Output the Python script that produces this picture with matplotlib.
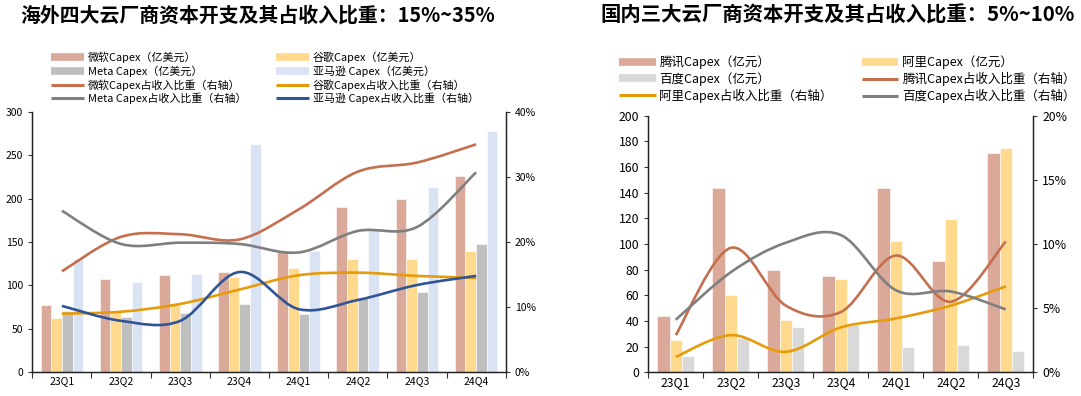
import matplotlib
matplotlib.use("Agg")
import matplotlib.pyplot as plt
from matplotlib.path import Path
from matplotlib.patches import PathPatch
from matplotlib.lines import Line2D
from matplotlib.ticker import FuncFormatter

plt.rcParams['font.family'] = ['Noto Sans CJK SC', 'DejaVu Sans']
plt.rcParams['axes.unicode_minus'] = False

# overseas: capex (亿美元) and capex / revenue (%)
os_quarters = ['23Q1', '23Q2', '23Q3', '23Q4', '24Q1', '24Q2', '24Q3', '24Q4']
msft_capex = [78, 107, 112, 115, 140, 190, 200, 226]
goog_capex = [63, 69, 80, 110, 120, 130, 130, 140]
meta_capex = [71, 64, 68, 79, 67, 85, 92, 148]
amzn_capex = [131, 104, 113, 263, 140, 165, 213, 278]
msft_ratio = [15.5, 20.8, 21.2, 20.4, 25.0, 30.8, 32.2, 35.0]
goog_ratio = [9.0, 9.3, 10.5, 12.7, 14.9, 15.3, 14.8, 14.5]
meta_ratio = [24.8, 19.7, 19.9, 19.7, 18.4, 21.7, 22.3, 30.7]
amzn_ratio = [10.2, 7.9, 7.9, 15.4, 9.7, 11.1, 13.4, 14.8]

# domestic: capex (亿元) and capex / revenue (%)
cn_quarters = ['23Q1', '23Q2', '23Q3', '23Q4', '24Q1', '24Q2', '24Q3']
tx_capex = [44, 143.5, 80, 75, 143.5, 87, 171]
ali_capex = [25, 60, 41, 73, 102, 119.5, 175]
bd_capex = [13, 27, 35, 37, 20, 21, 16.5]
tx_ratio = [2.9, 9.7, 5.2, 4.7, 9.1, 5.5, 10.2]
ali_ratio = [1.2, 2.9, 1.6, 3.5, 4.2, 5.2, 6.7]
bd_ratio = [4.1, 7.8, 10.1, 10.7, 6.4, 6.3, 4.9]

C_BROWN = '#DBA999'
C_YELLOW = '#FFD98E'
C_GRAY = '#BFBFBF'
C_LGRAY = '#D9D9D9'
C_BLUE = '#DAE3F3'
L_BROWN = '#C4704F'
L_ORANGE = '#E69C0A'
L_GRAY = '#7F7F7F'
L_BLUE = '#2F5597'


def smooth_line(ax, ys, color, lw=1.9):
    # Excel-like smoothed line: cubic bezier through the data points
    xs = list(range(len(ys)))
    pts = list(zip(xs, ys))
    verts = [pts[0]]
    codes = [Path.MOVETO]
    n = len(pts)
    for i in range(n - 1):
        p0 = pts[max(i - 1, 0)]
        p1 = pts[i]
        p2 = pts[i + 1]
        p3 = pts[min(i + 2, n - 1)]
        c1 = (p1[0] + (p2[0] - p0[0]) / 6, p1[1] + (p2[1] - p0[1]) / 6)
        c2 = (p2[0] - (p3[0] - p1[0]) / 6, p2[1] - (p3[1] - p1[1]) / 6)
        verts += [c1, c2, p2]
        codes += [Path.CURVE4] * 3
    ax.add_patch(PathPatch(Path(verts, codes), fill=False, edgecolor=color,
                           lw=lw, capstyle='butt', zorder=5))


def style_axes(ax, ax2, n, fs):
    ax.set_xlim(-0.5, n - 0.5)
    ax.set_xticks([i - 0.5 for i in range(n + 1)])
    ax.set_xticklabels([])
    ax.tick_params(axis='x', which='major', length=4, direction='out', color='#333333')
    ax.tick_params(axis='x', which='minor', length=0, labelsize=fs, pad=3)
    ax.tick_params(axis='y', length=3, direction='out', labelsize=fs, color='#333333')
    ax2.tick_params(axis='y', length=3, direction='out', labelsize=fs, color='#333333')
    for a in (ax, ax2):
        a.spines['top'].set_visible(False)
        for s in ('left', 'right', 'bottom'):
            a.spines[s].set_color('#222222')
            a.spines[s].set_linewidth(0.9)
    ax2.yaxis.set_major_formatter(FuncFormatter(lambda v, p: f'{v:.0f}%'))


fig = plt.figure(figsize=(10.81, 3.96), dpi=100)

# ---------------- left chart ----------------
ax1 = fig.add_axes([0.0299, 0.0598, 0.4379, 0.658])
ax1b = ax1.twinx()
n1 = len(os_quarters)
w1 = 0.18
x1 = list(range(n1))
for k, (vals, col) in enumerate([(msft_capex, C_BROWN), (goog_capex, C_YELLOW),
                                 (meta_capex, C_GRAY), (amzn_capex, C_BLUE)]):
    ax1.bar([x + (k - 1.5) * w1 for x in x1], vals, width=w1, color=col,
            edgecolor='white', linewidth=0.4, zorder=2)
ax1.set_ylim(0, 300)
ax1.set_yticks(range(0, 301, 50))
ax1b.set_ylim(0, 40)
ax1b.set_yticks(range(0, 41, 10))
for vals, col in [(msft_ratio, L_BROWN), (goog_ratio, L_ORANGE),
                  (meta_ratio, L_GRAY), (amzn_ratio, L_BLUE)]:
    smooth_line(ax1b, vals, col)
ax1.set_xticks(x1, minor=True)
ax1.set_xticklabels(os_quarters, minor=True)
style_axes(ax1, ax1b, n1, 7.5)

h_bar = lambda c: Line2D([], [], color=c, lw=5.5, solid_capstyle='butt')
h_line = lambda c: Line2D([], [], color=c, lw=2.2, solid_capstyle='butt')
handles1 = [h_bar(C_BROWN), h_bar(C_GRAY), h_line(L_BROWN), h_line(L_GRAY),
            h_bar(C_YELLOW), h_bar(C_BLUE), h_line(L_ORANGE), h_line(L_BLUE)]
labels1 = ['微软Capex（亿美元）', 'Meta Capex（亿美元）', '微软Capex占收入比重（右轴）',
           'Meta Capex占收入比重（右轴）', '谷歌Capex（亿美元）', '亚马逊 Capex（亿美元）',
           '谷歌Capex占收入比重（右轴）', '亚马逊 Capex占收入比重（右轴）']
fig.legend(handles1, labels1, ncol=2, loc='center', bbox_to_anchor=(0.245, 0.803),
           frameon=False, fontsize=7.9, handlelength=3.0, handletextpad=0.35,
           columnspacing=2.7, labelspacing=0.2, borderpad=0)

fig.text(20 / 1081, 1 - 15 / 396, '海外四大云厂商资本开支及其占收入比重：15%~35%',
         fontsize=14.3, fontweight='bold', ha='left', va='center')

# ---------------- right chart ----------------
ax2 = fig.add_axes([0.5997, 0.0598, 0.3562, 0.648])
ax2b = ax2.twinx()
n2 = len(cn_quarters)
w2 = 0.225
x2 = list(range(n2))
for k, (vals, col) in enumerate([(tx_capex, C_BROWN), (ali_capex, C_YELLOW),
                                 (bd_capex, C_LGRAY)]):
    ax2.bar([x + (k - 1) * w2 for x in x2], vals, width=w2, color=col,
            edgecolor='white', linewidth=0.4, zorder=2)
ax2.set_ylim(0, 200)
ax2.set_yticks(range(0, 201, 20))
ax2b.set_ylim(0, 20)
ax2b.set_yticks(range(0, 21, 5))
for vals, col in [(tx_ratio, L_BROWN), (ali_ratio, L_ORANGE), (bd_ratio, L_GRAY)]:
    smooth_line(ax2b, vals, col)
ax2.set_xticks(x2, minor=True)
ax2.set_xticklabels(cn_quarters, minor=True)
style_axes(ax2, ax2b, n2, 8.8)

handles2 = [h_bar(C_BROWN), h_bar(C_LGRAY), h_line(L_ORANGE),
            h_bar(C_YELLOW), h_line(L_BROWN), h_line(L_GRAY)]
labels2 = ['腾讯Capex（亿元）', '百度Capex（亿元）', '阿里Capex占收入比重（右轴）',
           '阿里Capex（亿元）', '腾讯Capex占收入比重（右轴）', '百度Capex占收入比重（右轴）']
fig.legend(handles2, labels2, ncol=2, loc='center', bbox_to_anchor=(0.784, 0.80),
           frameon=False, fontsize=9, handlelength=2.9, handletextpad=0.3,
           columnspacing=2.35, labelspacing=0.22, borderpad=0)

fig.text(600 / 1081, 1 - 15 / 396, '国内三大云厂商资本开支及其占收入比重：5%~10%',
         fontsize=14.7, fontweight='bold', ha='left', va='center')

fig.savefig('out.png', dpi=100)
